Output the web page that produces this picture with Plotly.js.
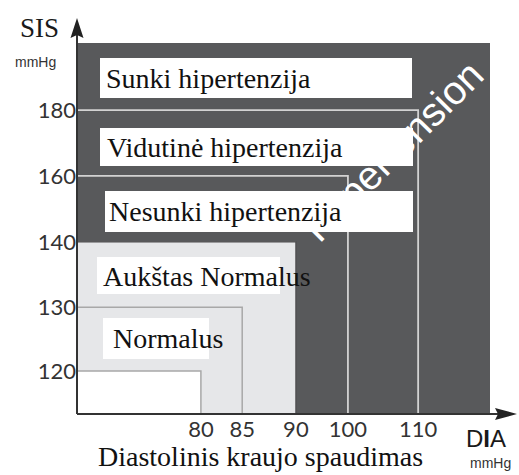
<!DOCTYPE html>
<html><head><meta charset="utf-8">
<script src="https://cdn.plot.ly/plotly-3.0.1.min.js"></script>
<style>html,body{margin:0;padding:0;background:#fff}#chart{width:519px;height:475px}</style>
</head><body><div id="chart"></div>
<script>
// ---- Data ----
const zoneNames = ['Sunki hipertenzija', 'Vidutinė hipertenzija', 'Nesunki hipertenzija', 'Aukštas Normalus', 'Normalus'];
const boundaryDia = [80, 85, 90, 100, 110];
const boundarySis = [120, 130, 140, 160, 180];
const diaTicks = [80, 85, 90, 100, 110];
const sisTicks = [120, 130, 140, 160, 180];
const diaTickLabels = ['80', '85', '90', '100', '110'];
const sisTickLabels = ['120', '130', '140', '160', '180'];
const overlayWord = 'Hypertension';

// ---- Layout: schematic (non-uniform) scale, axis fraction of each tick ----
const diaAxisPos = [0.300, 0.400, 0.530, 0.656, 0.826];
const sisAxisPos = [0.116, 0.288, 0.464, 0.642, 0.819];
function warp(v, ticks, pos) {
  for (let i = 0; i < ticks.length - 1; i++) {
    if (v >= ticks[i] && v <= ticks[i + 1]) {
      return pos[i] + (v - ticks[i]) / (ticks[i + 1] - ticks[i]) * (pos[i + 1] - pos[i]);
    }
  }
  return v < ticks[0] ? pos[0] : pos[pos.length - 1];
}
const wx = v => warp(v, diaTicks, diaAxisPos);
const wy = v => warp(v, sisTicks, sisAxisPos);

const W = 519, H = 475, L = 77, R = 29, T = 43, B = 61;
const PW = W - L - R, PH = H - T - B;
const px = x => (x - L) / PW;
const py = y => (H - B - y) / PH;

// styles per boundary (index aligned to boundary arrays)
const bLine = ['#a8a8a8', '#a8a8a8', '#4c4c4e', '#d2d2d2', '#d2d2d2'];
const bWidth = [1.5, 1.5, 1.2, 1.8, 1.8];
const bFill = ['#ffffff', null, '#e6e7e9', null, null];

const traces = [];
for (let k = boundaryDia.length - 1; k >= 0; k--) {
  const X = wx(boundaryDia[k]), Y = wy(boundarySis[k]);
  if (bFill[k]) {
    traces.push({type: 'scatter', mode: 'lines', x: [0, 0, X, X, 0], y: [0, Y, Y, 0, 0],
      fill: 'toself', fillcolor: bFill[k], line: {width: 0}, hoverinfo: 'skip', showlegend: false});
  }
  traces.push({type: 'scatter', mode: 'lines', x: [0, X, X], y: [Y, Y, 0],
    line: {color: bLine[k], width: bWidth[k]}, hoverinfo: 'skip', showlegend: false});
}

// label boxes (pixel rectangles) in order of zoneNames
const boxes = [
  [100, 412, 58, 98, 104, 78],
  [100, 413, 128, 166, 105, 147],
  [105, 413, 191, 232, 107, 212],
  [97, 280, 257, 294, 101, 276],
  [103, 209, 318, 359, 111, 338]
];
const serif = 'Liberation Serif, Times New Roman, serif';
const sans = 'Liberation Sans, Arial, sans-serif';

const shapes = [];
// overlay diagonal word (below the boxes)
const cx = 390, cy = 148;
shapes.push({type: 'rect', xref: 'paper', yref: 'paper', layer: 'above',
  x0: px(cx - 5), x1: px(cx + 5), y0: py(cy + 5), y1: py(cy - 5),
  line: {width: 0}, fillcolor: 'rgba(0,0,0,0)',
  label: {text: overlayWord, textangle: -45, textposition: 'middle center',
    font: {family: sans, size: 40, color: '#ffffff'}}});
boxes.forEach(b => {
  shapes.push({type: 'rect', xref: 'paper', yref: 'paper', layer: 'above',
    x0: px(b[0]), x1: px(b[1]), y0: py(b[3]), y1: py(b[2]),
    line: {width: 0}, fillcolor: '#ffffff'});
});
// axes lines with arrows
shapes.push({type: 'line', xref: 'paper', yref: 'paper', layer: 'above',
  x0: 0, y0: 0, x1: px(500), y1: 0, line: {color: '#333333', width: 2}});
shapes.push({type: 'line', xref: 'paper', yref: 'paper', layer: 'above',
  x0: 0, y0: 0, x1: 0, y1: py(32), line: {color: '#333333', width: 2}});
shapes.push({type: 'path', xref: 'paper', yref: 'paper', layer: 'above',
  path: `M ${px(517)} ${py(414)} L ${px(495)} ${py(408)} L ${px(498)} ${py(414)} L ${px(495)} ${py(420)} Z`,
  fillcolor: '#222222', line: {width: 0}});
shapes.push({type: 'path', xref: 'paper', yref: 'paper', layer: 'above',
  path: `M ${px(77)} ${py(18)} L ${px(70.5)} ${py(38)} L ${px(77)} ${py(35)} L ${px(83.5)} ${py(38)} Z`,
  fillcolor: '#222222', line: {width: 0}});

const annotations = [];
zoneNames.forEach((n, i) => {
  annotations.push({xref: 'paper', yref: 'paper', x: px(boxes[i][4]), y: py(boxes[i][5]),
    xanchor: 'left', yanchor: 'middle', showarrow: false, text: n,
    font: {family: serif, size: 28, color: '#111111'}});
});
const extra = [
  ['SIS', 18, 28, serif, 27, '#1a1a1a'],
  ['mmHg', 13, 62, sans, 14, '#333333'],
  ['D<b>I</b>A', 464, 438, sans, 24, '#1a1a1a'],
  ['mmHg', 468, 463, sans, 14, '#333333'],
  ['Diastolinis kraujo spaudimas', 96, 457, serif, 28, '#111111']
];
extra.forEach(e => annotations.push({xref: 'paper', yref: 'paper', x: px(e[1]), y: py(e[2]),
  xanchor: 'left', yanchor: 'middle', showarrow: false, text: e[0],
  font: {family: e[3], size: e[4], color: e[5]}}));

const tickFont = {family: 'Lato, Open Sans, sans-serif', size: 22, color: '#333333'};
const layout = {
  width: W, height: H,
  margin: {l: L, r: R, t: T, b: B, pad: 0},
  paper_bgcolor: '#ffffff', plot_bgcolor: '#58595b',
  showlegend: false,
  xaxis: {range: [0, 1], tickmode: 'array', tickvals: diaTicks.map(wx), ticktext: diaTickLabels,
    showgrid: false, zeroline: false, showline: false, ticks: '', tickfont: tickFont, fixedrange: true},
  yaxis: {range: [0, 1], tickmode: 'array', tickvals: sisTicks.map(wy), ticktext: sisTickLabels,
    showgrid: false, zeroline: false, showline: false, ticks: '', tickfont: tickFont, fixedrange: true},
  shapes: shapes,
  annotations: annotations
};
Plotly.newPlot('chart', traces, layout, {displayModeBar: false, staticPlot: true});
</script>
</body></html>
